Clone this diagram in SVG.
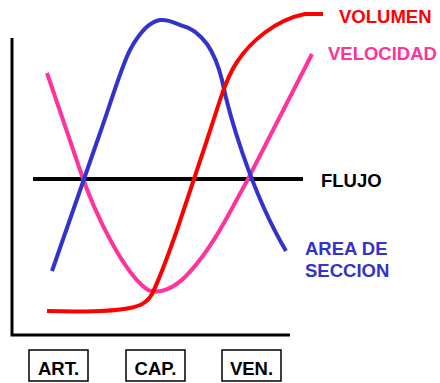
<svg xmlns="http://www.w3.org/2000/svg" width="440" height="383" viewBox="0 0 440 383">
<style>
.t{font-family:"Liberation Sans",Arial,sans-serif;font-weight:bold;font-size:18.5px}
.c{fill:none;stroke-width:4;stroke-linecap:butt;stroke-linejoin:round}
.box{fill:#fff;stroke:#000;stroke-width:1.5}
</style>
<rect width="440" height="383" fill="#fff"/>
<g id="axes" stroke="#000" stroke-width="3" fill="none">
<path d="M12,38 V335 H290"/>
</g>
<g id="connectors">
<path id="flujo-line" d="M33,179 H303" stroke="#000" stroke-width="4"/>
<path id="velocidad-curve" class="c" stroke="#FF3399" d="M47,73 L80,170 C95,215 125,275 148,290 C160,295 175,287 185,277 C200,262 215,240 230,212 L248,179 L312,54"/>
<path id="area-curve" class="c" stroke="#3333CC" d="M52,271 L100,133 C110,105 122,65 130,50 C138,35 148,22 160,20 C170,19 176,24 183,26 C192,28 200,35 207,44 C214,54 219,68 222,80 C228,110 250,190 286,251"/>
<path id="volumen-curve" class="c" stroke="#FF0000" d="M47,311 C80,312 115,311 130,308 C140,306 147,303 152,294 C158,282 170,250 177,230 L207,140 L220,100 C226,82 230,72 237,62 C250,42 275,20 305,14 L323,14"/>
</g>
<g id="volumen"><text class="t" x="339" y="23" fill="#FF0000">VOLUMEN</text></g>
<g id="velocidad"><text class="t" x="328" y="60" fill="#FF3399">VELOCIDAD</text></g>
<g id="flujo"><text class="t" x="321" y="187" fill="#000">FLUJO</text></g>
<g id="area"><text class="t" x="305" y="255" fill="#3333CC">AREA DE</text><text class="t" x="305" y="277" fill="#3333CC">SECCION</text></g>
<g id="art"><rect class="box" x="29" y="350" width="59" height="31"/><text class="t" x="58.5" y="375" text-anchor="middle">ART.</text></g>
<g id="cap"><rect class="box" x="126" y="350" width="59" height="31"/><text class="t" x="155.5" y="375" text-anchor="middle">CAP.</text></g>
<g id="ven"><rect class="box" x="222" y="350" width="59" height="31"/><text class="t" x="251.5" y="375" text-anchor="middle">VEN.</text></g>
</svg>
